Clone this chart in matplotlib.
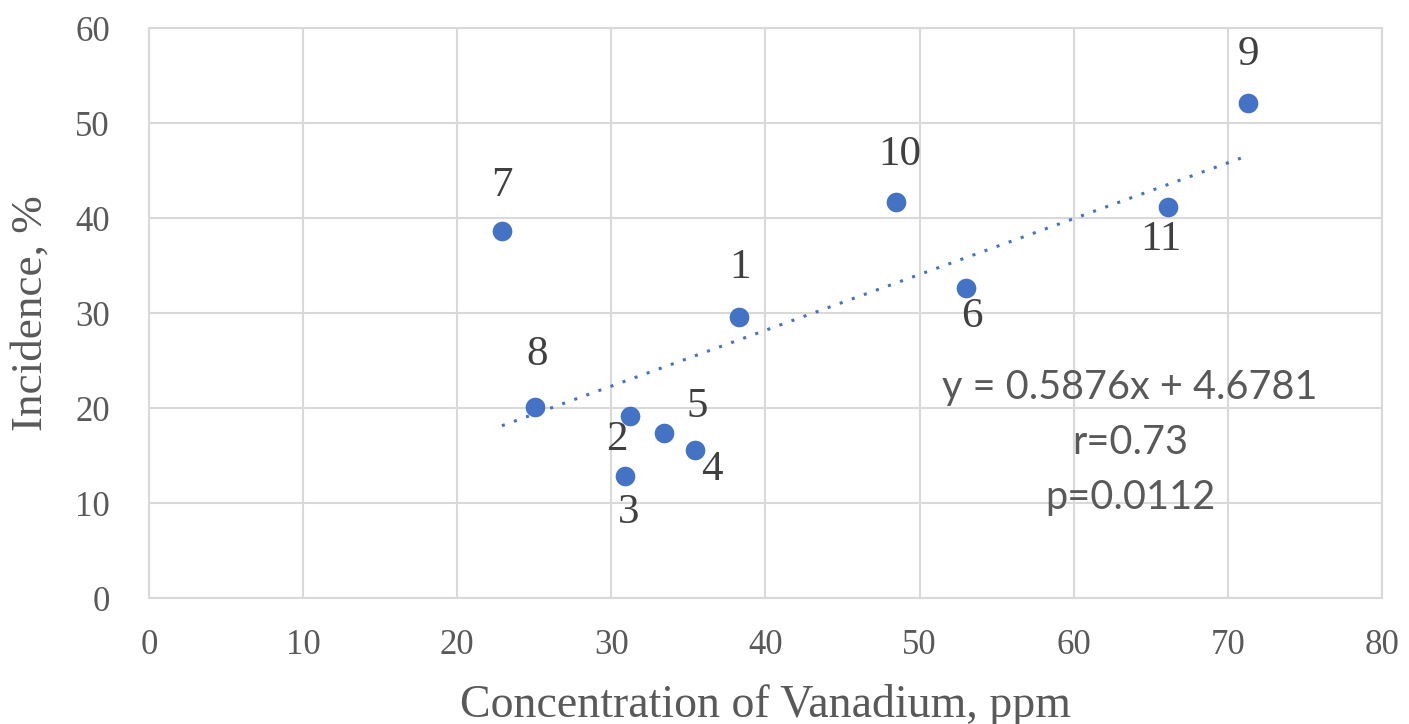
import numpy as np
import matplotlib
matplotlib.use("Agg")
from matplotlib import pyplot as plt

# data
point_ids = ["1", "2", "3", "4", "5", "6", "7", "8", "9", "10", "11"]
vanadium = [38.3, 31.2, 30.9, 35.4, 33.4, 53.0, 22.9, 25.05, 71.3, 48.5, 66.1]
incidence = [29.6, 19.2, 12.8, 15.6, 17.4, 32.6, 38.6, 20.1, 52.1, 41.7, 41.2]
slope = 0.5876
intercept = 4.6781
stats_text = ["y = 0.5876x + 4.6781", "r=0.73", "p=0.0112"]

# label offsets in pixels (dx, dy)
offsets = {"1": (1, 49), "2": (-13, -24), "3": (3, -36), "4": (17, -20),
           "5": (33, 26), "6": (6, -28), "7": (0, 46), "8": (2, 52),
           "9": (1, 48), "10": (3, 47), "11": (-7, -33)}

blue = "#4472C4"
grid_c = "#d9d9d9"
serif = ["Liberation Serif", "DejaVu Serif"]

fig = plt.figure(figsize=(14.09, 7.24), dpi=100)
ax = fig.add_axes([0.1057, 0.174, 0.8751, 0.7873])

ax.scatter(vanadium, incidence, s=200, color=blue, zorder=3, linewidths=0)

# trendline across data range
xt = np.array([min(vanadium), max(vanadium)])
ax.plot(xt, slope * xt + intercept, color=blue, lw=2.2, ls=(0, (1, 3.2)), zorder=2)

for pid, xv, yv in zip(point_ids, vanadium, incidence):
    dx, dy = offsets[pid]
    ax.annotate(pid, (xv, yv), xytext=(dx * 0.72, dy * 0.72), textcoords="offset points",
                ha="center", va="center", fontsize=31, color="#404040", family=serif)

ys = [0.370, 0.272, 0.177]
for t, yy in zip(stats_text, ys):
    ax.text(0.7956, yy, t, transform=ax.transAxes, ha="center", va="center",
            fontsize=28.5, color="#595959", family=["Lato", "DejaVu Sans"])

ax.set_xlim(0, 80)
ax.set_ylim(0, 60)
ax.set_xticks(np.arange(0, 81, 10))
ax.set_yticks(np.arange(0, 61, 10))
ax.grid(True, color=grid_c, lw=1.5)
ax.set_axisbelow(True)
for s in ax.spines.values():
    s.set_color(grid_c)
    s.set_linewidth(1.5)
ax.tick_params(axis="x", length=0, labelsize=25, labelcolor="#595959", pad=22)
ax.tick_params(axis="y", length=0, labelsize=25, labelcolor="#595959", pad=28)
for lab in ax.get_xticklabels() + ax.get_yticklabels():
    lab.set_family(serif)

ax.set_xlabel("Concentration of Vanadium, ppm", fontsize=33, color="#595959",
              family=serif, labelpad=16)
ax.set_ylabel("Incidence, %", fontsize=32.5, color="#595959", family=serif, labelpad=18)

fig.savefig("out.png", dpi=100)
